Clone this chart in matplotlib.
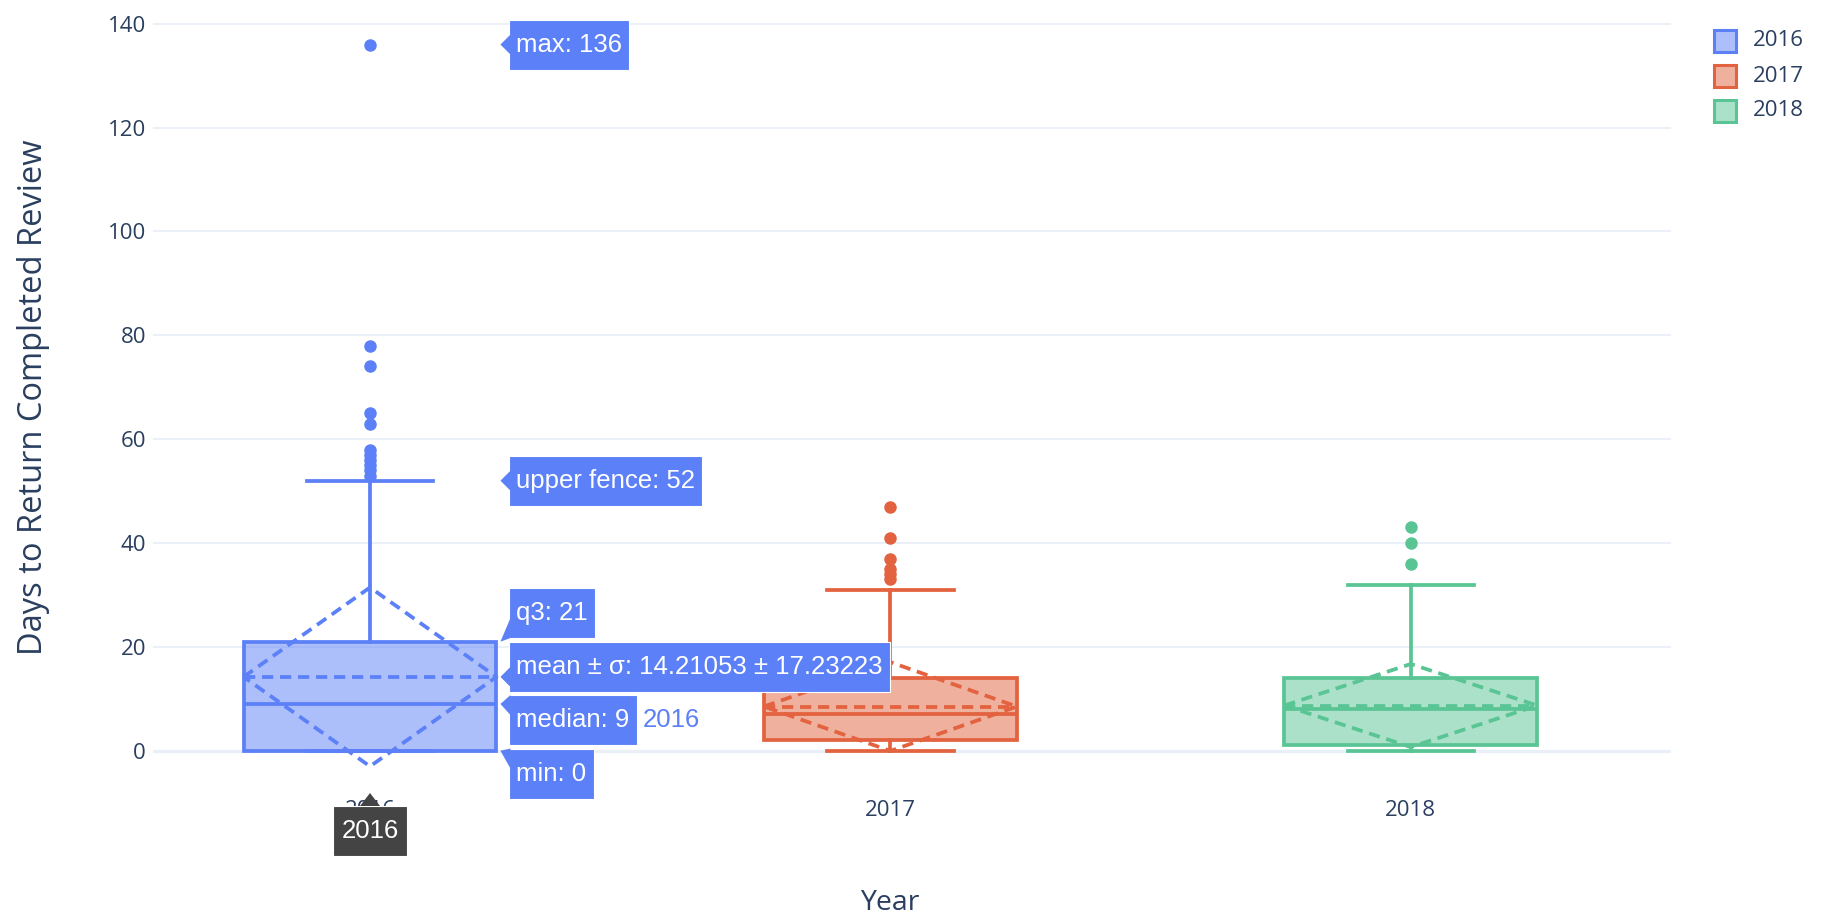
import matplotlib
matplotlib.use('Agg')
import matplotlib.pyplot as plt
from matplotlib.patches import Rectangle, Polygon
from matplotlib.transforms import IdentityTransform
from matplotlib.colors import to_rgba
import numpy as np

# box statistics (days to return completed review)
years = ['2016', '2017', '2018']
q1 = [0, 2, 1]
medians = [9, 7, 8]
q3 = [21, 14, 14]
lower_fence = [0, 0, 0]
upper_fence = [52, 31, 32]
means = [14.21053, 8.5, 8.7]
sds = [17.23223, 8.55, 8.0]
outliers = [[53, 54, 55, 56, 57, 58, 63, 65, 74, 78, 136],
            [33, 34, 35, 37, 41, 47],
            [36, 40, 43]]
colors = ['#5b80f7', '#e3623f', '#5ac594']

# hover labels shown for the 2016 box
hover_texts = ['max: 136', 'upper fence: 52', 'q3: 21',
               'mean ± σ: 14.21053 ± 17.23223', 'median: 9', 'min: 0']
hover_values = [136, 52, 21, 14.21053, 9, 0]
hover_year = 0

W, Hfig = 1845, 923
txt_col = '#2a3f5f'
grid_col = '#ebf0f8'
box_w = 0.486
lw = 2.7

fig = plt.figure(figsize=(W / 100, Hfig / 100), dpi=100)
ax = fig.add_axes([153 / W, 130 / Hfig, 1518 / W, 777 / Hfig])
ax.set_xlim(-0.417, 2.5)
ax.set_ylim(-8.15, 141.5)

stats = []
for i in range(len(years)):
    stats.append(dict(med=medians[i], q1=q1[i], q3=q3[i], whislo=lower_fence[i],
                      whishi=upper_fence[i], mean=means[i], fliers=outliers[i], label=years[i]))

bp = ax.bxp(stats, positions=range(len(years)), widths=box_w, capwidths=box_w / 2,
            patch_artist=True, showmeans=True, meanline=True)
for i, c in enumerate(colors):
    bp['boxes'][i].set(facecolor=to_rgba(c, 0.5), edgecolor=c, linewidth=lw, zorder=3)
    bp['medians'][i].set(color=c, linewidth=lw, zorder=4)
    bp['means'][i].set(color=c, linewidth=lw, linestyle=(0, (3, 1.8)), zorder=4)
    for ln in bp['whiskers'][2 * i:2 * i + 2] + bp['caps'][2 * i:2 * i + 2]:
        ln.set(color=c, linewidth=lw, zorder=3)
    bp['fliers'][i].set(marker='o', markerfacecolor=c, markeredgecolor=c, markersize=8, zorder=4)
    # mean +/- sd diamond
    hw = box_w / 2
    m, s = means[i], sds[i]
    ax.plot([i - hw, i, i + hw, i, i - hw], [m, m + s, m, m - s, m], color=c,
            linewidth=lw, linestyle=(0, (3, 1.8)), zorder=4)

ax.set_yticks(range(0, 141, 20))
ax.set_xticks(range(len(years)), years)
for sp in ax.spines.values():
    sp.set_visible(False)
ax.tick_params(length=0, colors=txt_col)
ax.tick_params(axis='x', pad=5, labelsize=16)
ax.tick_params(axis='y', pad=5, labelsize=16)
for lab in ax.get_xticklabels() + ax.get_yticklabels():
    lab.set_fontfamily('Open Sans')
ax.set_axisbelow(True)
ax.yaxis.grid(True, color=grid_col, linewidth=1.4)
ax.axhline(0, color=grid_col, linewidth=2.4, zorder=0.5)

fig.text(34 / W, (Hfig - 397) / Hfig, 'Days to Return Completed Review', rotation=90,
         ha='center', va='center', fontsize=23.5, color=txt_col, family='Open Sans')
fig.text(890 / W, (Hfig - 910) / Hfig, 'Year', ha='center', va='baseline',
         fontsize=20.5, color=txt_col, family='Open Sans')

# legend
for i, (yr, c) in enumerate(zip(years, colors)):
    cy = Hfig - (41 + 35 * i)
    fig.add_artist(Rectangle((1714, cy - 11), 22, 22, facecolor=to_rgba(c, 0.5), edgecolor=c,
                             linewidth=2.2, transform=IdentityTransform()))
    fig.text(1753 / W, cy / Hfig, yr, ha='left', va='center', fontsize=16,
             color=txt_col, family='Open Sans')

# hover labels
renderer = fig.canvas.get_renderer()
hfont = dict(family='Liberation Sans', fontsize=18.5)
LH, step = 50, 53.5
tip_x = ax.transData.transform((hover_year + box_w / 2, 0))[0] + 4
box_x = tip_x + 9
ys = [ax.transData.transform((0, v))[1] for v in hover_values]
order = sorted(range(len(ys)), key=lambda k: -ys[k])
groups = [[k] for k in order]


def place(g):
    mid = np.mean([ys[k] for k in g])
    n = len(g)
    return {k: mid + ((n - 1) / 2 - j) * step for j, k in enumerate(g)}


merged = True
while merged:
    merged = False
    for gi in range(len(groups) - 1):
        a, b = place(groups[gi]), place(groups[gi + 1])
        if a[groups[gi][-1]] - b[groups[gi + 1][0]] < step:
            groups[gi] = groups[gi] + groups[gi + 1]
            del groups[gi + 1]
            merged = True
            break
centers = {}
for g in groups:
    centers.update(place(g))

for k, txt in enumerate(hover_texts):
    c = centers[k]
    t = fig.text(0, 0, txt, color='white', ha='left', va='center', zorder=12, **hfont)
    t.set_transform(IdentityTransform())
    t.set_position((box_x + 7, c))
    w = t.get_window_extent(renderer).width + 14
    fig.add_artist(Rectangle((box_x, c - LH / 2), w, LH, facecolor=colors[hover_year],
                             edgecolor='white', linewidth=0.8, zorder=11,
                             transform=IdentityTransform()))
    cc = np.clip(ys[k], c - LH / 2 + 10, c + LH / 2 - 10)
    fig.add_artist(Polygon([(tip_x, ys[k]), (box_x + 1, cc + 10), (box_x + 1, cc - 10)],
                           closed=True, facecolor=colors[hover_year], edgecolor='none',
                           zorder=11, transform=IdentityTransform()))
    if hover_texts[k].startswith('median'):
        n = fig.text(0, 0, years[hover_year], color=colors[hover_year], ha='left',
                     va='center', zorder=12, **hfont)
        n.set_transform(IdentityTransform())
        n.set_position((box_x + w + 6, c))

# x axis hover label
ax_bottom = ax.transAxes.transform((0, 0))[1]
cx = ax.transData.transform((hover_year, 0))[0]
t = fig.text(0, 0, years[hover_year], color='white', ha='center', va='center', zorder=12, **hfont)
t.set_transform(IdentityTransform())
top = ax_bottom - 13
t.set_position((cx, top - LH / 2))
w = t.get_window_extent(renderer).width + 16
fig.add_artist(Rectangle((cx - w / 2, top - LH), w, LH, facecolor='#444444', edgecolor='white',
                         linewidth=0.8, zorder=11, transform=IdentityTransform()))
fig.add_artist(Polygon([(cx, ax_bottom), (cx - 10, top), (cx + 10, top)], closed=True,
                       facecolor='#444444', edgecolor='none', zorder=11,
                       transform=IdentityTransform()))

fig.savefig('out.png', dpi=100, facecolor='white')
